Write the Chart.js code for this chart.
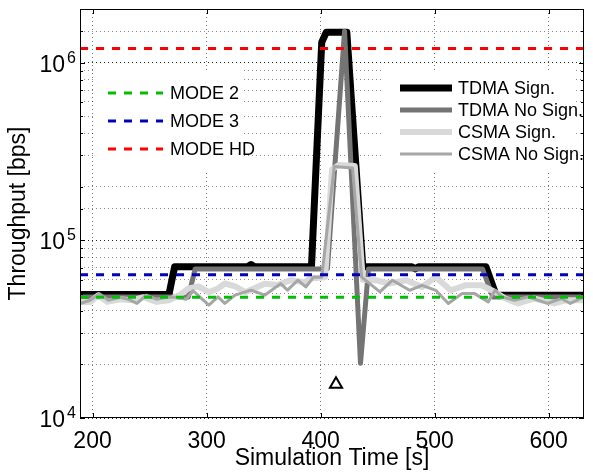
<!DOCTYPE html>
<html><head><meta charset="utf-8">
<script src="https://cdn.jsdelivr.net/npm/chart.js@4/dist/chart.umd.min.js"></script>
<style>html,body{margin:0;padding:0;background:#fff;}canvas{display:block;}</style>
</head><body>
<canvas id="c" width="593" height="472"></canvas>
<script>
const FONT = '"Liberation Sans", Arial, Helvetica, sans-serif';

// axis ranges and tick labels
const xMin = 189, xMax = 631, xStep = 100;
const xTickLabels = ['200', '300', '400', '500', '600'];
const yMin = 1e4, yMax = 2e6;
const yDecades = [4, 5, 6];

// TDMA Sign. (black)
const tdmaSignT = [189, 267, 272, 336, 339, 342, 392, 401, 405, 423, 437, 480, 483, 486, 545, 554, 631];
const tdmaSignV = [49500, 49500, 71000, 71000, 73000, 71000, 71000, 1300000, 1480000, 1480000, 71000, 71000, 69000, 71000, 71000, 49000, 49000];

// TDMA No Sign. (dark grey)
const tdmaNoT = [189, 284, 290, 406, 421, 435, 442, 542, 551, 631];
const tdmaNoV = [48000, 48000, 69000, 69000, 1500000, 20300, 69000, 69000, 48000, 48000];

// CSMA Sign. (light grey)
const csmaSignT = [189, 198, 205, 213, 224, 235, 245, 256, 267, 276, 284, 293, 302, 310, 316, 325, 334, 340, 351, 362, 374, 386, 391, 404, 410, 416, 430, 437, 448, 460, 475, 489, 501, 514, 527, 541, 553, 562, 573, 587, 605, 616, 631];
const csmaSignV = [45000, 45000, 49000, 45000, 46600, 46000, 47800, 45000, 46000, 49000, 53500, 55000, 51000, 53500, 57100, 55000, 51000, 53000, 57000, 56000, 59600, 58000, 61000, 62000, 250000, 265000, 262000, 60000, 59600, 57100, 59600, 54600, 62200, 52300, 55800, 55800, 51200, 47000, 44100, 47000, 44100, 46000, 46000];

// CSMA No Sign. (mid grey)
const csmaNoT = [189, 198, 206, 214, 224, 231, 239, 247, 256, 265, 274, 282, 288, 302, 310, 316, 325, 339, 351, 365, 371, 380, 387, 394, 401, 412, 428, 436, 452, 463, 478, 489, 501, 512, 524, 535, 547, 553, 559, 570, 582, 599, 611, 619, 631];
const csmaNoV = [44100, 46000, 50000, 46000, 47800, 46600, 44100, 49100, 46600, 47800, 47800, 46600, 52000, 43100, 48000, 44100, 49100, 52400, 49100, 57000, 52400, 59600, 54600, 62200, 62000, 260000, 255000, 62000, 51200, 59600, 52300, 55800, 52300, 44100, 50100, 50100, 45000, 52300, 48000, 46000, 48000, 44100, 47000, 44100, 48000];

// reference modes (dashed)
const modeNames = ['MODE 2', 'MODE 3', 'MODE HD'];
const modeValues = [47800, 64000, 1200000];
const modeColors = ['#00c000', '#0000c0', '#ff0000'];

// marker (triangle)
const markerT = [413.5];
const markerV = [15500];

const seriesNames = ['TDMA Sign.', 'TDMA No Sign.', 'CSMA Sign.', 'CSMA No Sign.'];
const seriesColors = ['#000000', '#747474', '#d9d9d9', '#a6a6a6'];
const seriesWidths = [7, 5, 6, 3];

const mk = (t, v) => t.map((x, i) => ({x: x, y: v[i]}));
const seriesData = [mk(tdmaSignT, tdmaSignV), mk(tdmaNoT, tdmaNoV), mk(csmaSignT, csmaSignV), mk(csmaNoT, csmaNoV)];

const datasets = [];
for (let i = modeNames.length - 1; i >= 0; i--) {
  datasets.push({label: modeNames[i], data: [{x: xMin, y: modeValues[i]}, {x: xMax, y: modeValues[i]}],
    borderColor: modeColors[i], borderWidth: 3, borderDash: [8, 8], pointRadius: 0, fill: false, tension: 0});
}
datasets.push({label: 'marker', data: mk(markerT, markerV), showLine: false, pointStyle: 'triangle',
  pointRadius: 7, pointBorderWidth: 2, pointBorderColor: '#000', pointBackgroundColor: 'rgba(0,0,0,0)'});
for (let i = seriesNames.length - 1; i >= 0; i--) {
  datasets.push({label: seriesNames[i], data: seriesData[i], borderColor: seriesColors[i], borderWidth: seriesWidths[i],
    pointRadius: 0, fill: false, tension: 0, borderJoinStyle: 'round', borderCapStyle: 'butt'});
}

function drawLegend(ctx, names, colors, widths, dashes, box, rows, lx0, lx1, tx) {
  ctx.fillStyle = '#fff';
  ctx.fillRect(box[0], box[1], box[2], box[3]);
  ctx.font = '18px ' + FONT;
  ctx.textAlign = 'left';
  ctx.textBaseline = 'middle';
  names.forEach((n, i) => {
    ctx.save();
    ctx.strokeStyle = colors[i];
    ctx.lineWidth = widths[i];
    ctx.setLineDash(dashes[i]);
    ctx.beginPath();
    ctx.moveTo(lx0, rows[i]);
    ctx.lineTo(lx1, rows[i]);
    ctx.stroke();
    ctx.restore();
    ctx.fillStyle = '#000';
    ctx.fillText(n, tx, rows[i] + 1);
  });
}

const overlay = {
  id: 'overlay',
  afterDatasetsDraw(chart) {
    const {ctx, chartArea: a, scales: {x, y}} = chart;
    ctx.save();
    ctx.strokeStyle = '#000';
    ctx.lineWidth = 1;
    ctx.setLineDash([]);
    ctx.strokeRect(a.left + 0.5, a.top + 0.5, a.right - a.left - 1, a.bottom - a.top - 1);
    ctx.beginPath();
    x.ticks.forEach(t => {
      const px = Math.round(x.getPixelForValue(t.value)) + 0.5;
      ctx.moveTo(px, a.bottom); ctx.lineTo(px, a.bottom - 5);
      ctx.moveTo(px, a.top); ctx.lineTo(px, a.top + 5);
    });
    y.ticks.forEach(t => {
      const lg = Math.log10(t.value);
      const L = Math.abs(lg - Math.round(lg)) < 1e-6 ? 5 : 3;
      const py = Math.round(y.getPixelForValue(t.value)) + 0.5;
      ctx.moveTo(a.left, py); ctx.lineTo(a.left + L, py);
      ctx.moveTo(a.right, py); ctx.lineTo(a.right - L, py);
    });
    ctx.stroke();
    ctx.fillStyle = '#000';
    // x tick labels
    ctx.font = '23px ' + FONT;
    ctx.textAlign = 'center';
    ctx.textBaseline = 'top';
    x.ticks.forEach((t, i) => {
      ctx.fillText(xTickLabels[i], x.getPixelForValue(t.value), a.bottom + 12);
    });
    // y tick labels 10^n
    ctx.textBaseline = 'alphabetic';
    yDecades.forEach(e => {
      const py = y.getPixelForValue(Math.pow(10, e));
      ctx.font = '23px ' + FONT;
      ctx.textAlign = 'right';
      ctx.fillText('10', 65, py + 9);
      ctx.font = '16px ' + FONT;
      ctx.textAlign = 'left';
      ctx.fillText(String(e), 67, py);
    });
    drawLegend(ctx, modeNames, modeColors, [3, 3, 3], [[8, 8], [8, 8], [8, 8]],
      [94, 70, 150, 100], [93, 121, 149], 108, 163, 170);
    drawLegend(ctx, seriesNames, seriesColors, seriesWidths, [[], [], [], []],
      [381, 70, 192, 100], [88, 110, 132, 154], 400, 452, 458);
    ctx.restore();
  }
};

new Chart(document.getElementById('c'), {
  type: 'line',
  data: {datasets: datasets},
  plugins: [overlay],
  options: {
    responsive: false, animation: false, devicePixelRatio: 1,
    layout: {padding: {top: 9, right: 2, left: 0, bottom: 0}},
    plugins: {legend: {display: false}, tooltip: {enabled: false}},
    scales: {
      x: {
        type: 'linear', min: xMin, max: xMax,
        afterFit: s => { s.height = 54; },
        ticks: {display: false, stepSize: xStep, includeBounds: false, autoSkip: false, maxRotation: 0},
        grid: {drawTicks: false, color: 'rgba(0,0,0,0.55)', lineWidth: 1},
        border: {display: false, dash: [1, 3]},
        title: {display: true, text: 'Simulation Time [s]', color: '#000', font: {family: FONT, size: 23}, padding: {top: 0, bottom: 0}}
      },
      y: {
        type: 'logarithmic', min: yMin, max: yMax,
        afterFit: s => { s.width = 80; },
        ticks: {display: false},
        grid: {drawTicks: false, lineWidth: 1, color: c => {
          const lg = Math.log10(c.tick.value);
          return Math.abs(lg - Math.round(lg)) < 1e-6 ? 'rgba(0,0,0,0.85)' : 'rgba(0,0,0,0.45)';
        }},
        border: {display: false, dash: [1, 3]},
        title: {display: true, text: 'Throughput [bps]', color: '#000', font: {family: FONT, size: 23}, padding: {top: 5, bottom: 0}}
      }
    }
  }
});
</script>
</body></html>
